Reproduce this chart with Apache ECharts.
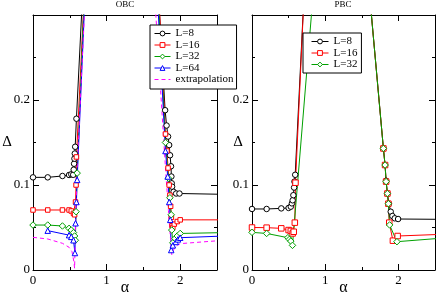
<!DOCTYPE html>
<html><head><meta charset="utf-8">
<script src="https://cdn.jsdelivr.net/npm/echarts@6/dist/echarts.min.js"></script>
<style>html,body{margin:0;padding:0;background:#fff}#c{width:436px;height:296px}</style>
</head><body><div id="c"></div>
<script>
// ---------------- data (OBC panel) ----------------
const obcL8Alpha  = [0, 0.2, 0.4, 0.49, 0.52, 0.546, 0.553, 0.558, 0.563, 0.568, 0.573, 0.59, 0.68, 1.70, 1.795, 1.815, 1.835, 1.85, 1.862, 1.875, 1.88, 1.885, 1.89, 1.91, 1.945, 1.99, 2.6];
const obcL8Delta  = [0.109, 0.109, 0.1106, 0.1118, 0.1126, 0.112, 0.118, 0.125, 0.131, 0.137, 0.145, 0.178, 0.335, 0.33, 0.188, 0.17, 0.157, 0.147, 0.135, 0.122, 0.11, 0.102, 0.098, 0.092, 0.090, 0.090, 0.089];
const obcL16Alpha = [0, 0.2, 0.4, 0.49, 0.52, 0.55, 0.565, 0.578, 0.585, 0.59, 0.70, 1.70, 1.80, 1.82, 1.835, 1.85, 1.86, 1.87, 1.88, 1.89, 1.9, 1.92, 1.96, 2.0, 2.6];
const obcL16Delta = [0.0706, 0.0706, 0.0706, 0.0706, 0.0694, 0.0667, 0.065, 0.08, 0.1, 0.133, 0.33, 0.34, 0.16, 0.14, 0.12, 0.10, 0.088, 0.075, 0.062, 0.052, 0.05, 0.054, 0.057, 0.059, 0.059];
const obcL32Alpha = [0, 0.2, 0.4, 0.49, 0.52, 0.55, 0.565, 0.575, 0.585, 0.6, 0.70, 1.69, 1.80, 1.84, 1.86, 1.878, 1.885, 1.9, 1.93, 1.96, 2.0, 2.6];
const obcL32Delta = [0.0529, 0.0529, 0.0518, 0.049, 0.047, 0.044, 0.040, 0.035, 0.0686, 0.114, 0.33, 0.34, 0.15, 0.108, 0.085, 0.065, 0.047, 0.032, 0.037, 0.040, 0.043, 0.044];
const obcL64Alpha = [0.2, 0.49, 0.52, 0.55, 0.57, 0.578, 0.59, 0.6, 0.71, 1.68, 1.80, 1.83, 1.851, 1.865, 1.878, 1.9, 1.94, 1.97, 2.0, 2.6];
const obcL64Delta = [0.0463, 0.041, 0.039, 0.035, 0.02, 0.055, 0.08, 0.106, 0.33, 0.34, 0.14, 0.11, 0.080, 0.059, 0.0235, 0.029, 0.033, 0.036, 0.038, 0.040];
const obcExtAlpha = [0, 0.2, 0.4, 0.49, 0.53, 0.555, 0.565, 0.58, 0.6, 0.72, 1.64, 1.80, 1.84, 1.87, 1.885, 1.9, 1.93, 1.96, 2.0, 2.6];
const obcExtDelta = [0.0384, 0.0365, 0.0314, 0.0267, 0.0216, 0.01, 0.002, 0.06, 0.12, 0.34, 0.34, 0.12, 0.07, 0.035, 0.018, 0.022, 0.027, 0.029, 0.031, 0.035];

// ---------------- data (PBC panel) ----------------
const pbcL8Alpha  = [0, 0.2, 0.4, 0.5, 0.53, 0.545, 0.555, 0.565, 0.575, 0.58, 0.59, 0.72, 1.60, 1.795, 1.818, 1.832, 1.85, 1.87, 1.895, 1.918, 1.95, 1.996, 2.6];
const pbcL8Delta  = [0.0718, 0.0718, 0.0725, 0.073, 0.0745, 0.0784, 0.082, 0.088, 0.097, 0.104, 0.112, 0.34, 0.33, 0.143, 0.1235, 0.105, 0.090, 0.078, 0.0686, 0.0635, 0.0608, 0.060, 0.0596];
const pbcL16Alpha = [0, 0.2, 0.4, 0.5, 0.53, 0.555, 0.57, 0.585, 0.594, 0.72, 1.60, 1.795, 1.818, 1.832, 1.85, 1.863, 1.875, 1.925, 1.99, 2.6];
const pbcL16Delta = [0.050, 0.0498, 0.049, 0.047, 0.046, 0.043, 0.045, 0.0557, 0.1027, 0.34, 0.33, 0.143, 0.1235, 0.104, 0.09, 0.078, 0.0557, 0.0345, 0.040, 0.042];
const pbcL32Alpha = [0, 0.2, 0.49, 0.51, 0.53, 0.553, 0.85, 1.60, 1.795, 1.818, 1.832, 1.85, 1.863, 1.88, 1.98, 2.6];
const pbcL32Delta = [0.0443, 0.043, 0.038, 0.036, 0.034, 0.029, 0.34, 0.33, 0.143, 0.1235, 0.104, 0.09, 0.078, 0.053, 0.0333, 0.0375];

// ---------------- axes / labels ----------------
const panelTitles = ['OBC', 'PBC'];
const xTickLabels = ['0', '1', '2'];
const yTickLabels = ['0', '0.1', '0.2'];
const obcLegend = ['L=8', 'L=16', 'L=32', 'L=64', 'extrapolation'];
const pbcLegend = ['L=8', 'L=16', 'L=32'];

const FONT = '"Liberation Serif","Times New Roman",serif';
const BLACK = '#000000', RED = '#ff0000', GREEN = '#00a000', BLUE = '#0000ff', MAGENTA = '#ff00ff';
const DASH = [4, 3];

function pts(a, d) { return a.map((x, i) => [x, d[i]]); }
function mk(name, a, d, color, symbol, size, panel, dashed) {
  return {
    name, type: 'line', xAxisIndex: panel, yAxisIndex: panel, data: pts(a, d),
    symbol: dashed ? 'none' : symbol, symbolSize: size, showAllSymbol: true, clip: true,
    lineStyle: { color, width: 1, type: dashed ? DASH : 'solid' },
    itemStyle: dashed ? { color } : { color: '#fff', borderColor: color, borderWidth: 1 },
    emphasis: { disabled: true }, silent: true
  };
}

const series = [
  mk('L=8', obcL8Alpha, obcL8Delta, BLACK, 'circle', 5.5, 0),
  mk('L=16', obcL16Alpha, obcL16Delta, RED, 'rect', 4.5, 0),
  mk('L=32', obcL32Alpha, obcL32Delta, GREEN, 'diamond', 6.5, 0),
  mk('L=64', obcL64Alpha, obcL64Delta, BLUE, 'triangle', 5.5, 0),
  mk('extrapolation', obcExtAlpha, obcExtDelta, MAGENTA, 'none', 0, 0, true),
  mk('L=8', pbcL8Alpha, pbcL8Delta, BLACK, 'circle', 5.5, 1),
  mk('L=16', pbcL16Alpha, pbcL16Delta, RED, 'rect', 5.5, 1),
  mk('L=32', pbcL32Alpha, pbcL32Delta, GREEN, 'diamond', 6.5, 1)
];

const axisLineStyle = { color: '#000', width: 1 };
const xLabelMap = {}; xTickLabels.forEach(t => xLabelMap[Number(t)] = t);
const yLabelMap = {}; yTickLabels.forEach(t => yLabelMap[Number(t)] = t);

const xAxes = [], yAxes = [];
// major bottom (0,1), major top (2,3), minor bottom (4,5), minor top (6,7)
[['bottom', true, 6, 1], ['top', false, 6, 1], ['bottom', false, 3, 0.5], ['top', false, 3, 0.5]].forEach(([pos, lab, len, iv]) => {
  [0, 1].forEach(g => {
    xAxes.push({
      gridIndex: g, type: 'value', min: 0, max: 2.5, interval: iv, position: pos,
      axisLine: { show: len === 6, onZero: false, lineStyle: axisLineStyle },
      axisTick: { inside: true, length: len, lineStyle: { color: '#000', width: 1 } },
      axisLabel: { show: lab, showMaxLabel: false, margin: 4, fontFamily: FONT, fontSize: 13, color: '#000',
        formatter: v => (xLabelMap[v] !== undefined ? xLabelMap[v] : '') },
      splitLine: { show: false },
      name: lab ? 'α' : '', nameLocation: 'middle', nameGap: 10, nameMoveOverlap: false,
      nameTextStyle: { fontFamily: FONT, fontSize: 16, color: '#000' }
    });
  });
});
[['left', true], ['right', false]].forEach(([pos, lab]) => {
  [0, 1].forEach(g => {
    yAxes.push({
      gridIndex: g, type: 'value', min: 0, max: 0.3, interval: 0.1, position: pos,
      axisLine: { show: true, onZero: false, lineStyle: axisLineStyle },
      axisTick: { inside: true, length: 6, lineStyle: { color: '#000', width: 1 } },
      minorTick: { show: true, splitNumber: 2, length: 3, lineStyle: { color: '#000', width: 1 } },
      axisLabel: { show: lab, showMaxLabel: false, margin: 3, fontFamily: FONT, fontSize: 13, color: '#000',
        formatter: v => (yLabelMap[Math.round(v * 1000) / 1000] !== undefined ? yLabelMap[Math.round(v * 1000) / 1000] : '') },
      splitLine: { show: false }, minorSplitLine: { show: false },
      name: lab ? 'Δ' : '', nameLocation: 'middle', nameRotate: 0, nameGap: g === 0 ? 21 : 9, nameMoveOverlap: false,
      nameTextStyle: { fontFamily: FONT, fontSize: 15, color: '#000' }
    });
  });
});

const legendCommon = {
  orient: 'vertical', itemHeight: 6, itemGap: 0.5, selectedMode: false,
  borderColor: '#000', borderWidth: 1, borderRadius: 0, backgroundColor: '#fff',
  itemStyle: { borderWidth: 1 }, lineStyle: { width: 1 },
  textStyle: { fontFamily: FONT, fontSize: 11, color: '#000', lineHeight: 10 }, z: 10
};

const option = {
  animation: false,
  backgroundColor: '#fff',
  title: [
    { text: panelTitles[0], left: 125, top: 0, textAlign: 'center', padding: 0,
      textStyle: { fontFamily: FONT, fontSize: 9, fontWeight: 'normal', color: '#000' } },
    { text: panelTitles[1], left: 343, top: 0, textAlign: 'center', padding: 0,
      textStyle: { fontFamily: FONT, fontSize: 9, fontWeight: 'normal', color: '#000' } }
  ],
  grid: [
    { left: 33, top: 15, width: 184, height: 255, outerBoundsMode: 'none', containLabel: false },
    { left: 252, top: 15, width: 183, height: 255, outerBoundsMode: 'none', containLabel: false }
  ],
  xAxis: xAxes,
  yAxis: yAxes,
  legend: [
    Object.assign({}, legendCommon, { left: 150, top: 25, itemWidth: 16, padding: [3, 3, 4, 4],
      data: obcLegend.map(n => n === 'extrapolation'
        ? { name: n, itemStyle: { color: 'rgba(0,0,0,0)', borderColor: 'rgba(0,0,0,0)', borderWidth: 0 } }
        : { name: n }) }),
    Object.assign({}, legendCommon, { left: 303, top: 33, itemWidth: 17, padding: [3, 4, 3, 8],
      data: pbcLegend.map(n => ({ name: n })) })
  ],
  series
};

const chart = echarts.init(document.getElementById('c'), null, { renderer: 'canvas' });
chart.setOption(option);
</script>
</body></html>
